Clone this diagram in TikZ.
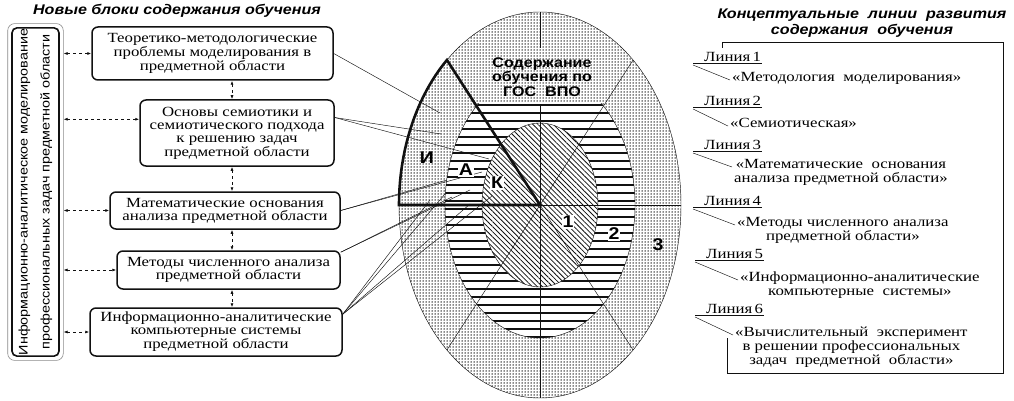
\documentclass[tikz,border=0pt]{standalone}
\usepackage{fontspec}
\setmainfont{Liberation Serif}[FakeStretch=1.2]
\setsansfont{Liberation Sans}[FakeStretch=1.15]
\usepackage{tikz}
\usetikzlibrary{arrows.meta,positioning,fit,calc,patterns.meta}
\definecolor{ink}{HTML}{111111}
\definecolor{frame}{HTML}{8A8A8A}

\begin{document}
\begin{tikzpicture}[
  x=1pt, y=-1pt,
  box/.style={draw=ink, line width=1.5pt, rounded corners=6pt, fill=white, align=center, inner sep=2pt, font=\fontsize{14}{13}\selectfont},
  link/.style={{Latex[length=4pt,width=3pt]}-{Latex[length=4pt,width=3pt]}, dashed, draw=ink, line width=0.7pt},
  ray/.style={draw=ink, line width=0.45pt},
  seclabel/.style={font=\sffamily\bfseries\fontsize{17}{17}\selectfont, inner sep=1pt},
  heading/.style={font=\sffamily\bfseries\itshape\fontsize{14}{16}\selectfont, align=center},
  linia/.style={font=\fontsize{14}{14}\selectfont, inner xsep=1pt, inner ysep=1.5pt, anchor=south west},
  linetext/.style={font=\fontsize{14}{14}\selectfont, align=center, inner sep=0pt, anchor=north west}
]
\useasboundingbox (0,0) rectangle (1014,401);

\node[heading] (newtitle) at (177,11) {Новые блоки содержания обучения};

\node[box, minimum width=241pt, minimum height=53pt] (b1) at (212.5,53.5) {Теоретико-методологические\\проблемы моделирования в\\предметной области};
\node[box, minimum width=194pt, minimum height=66pt] (b2) at (237,133) {Основы семиотики и\\семиотического подхода\\к решению задач\\предметной области};
\node[box, minimum width=230pt, minimum height=37pt] (b3) at (225,210.5) {Математические основания\\анализа предметной области};
\node[box, minimum width=223pt, minimum height=38pt] (b4) at (228.5,270) {Методы численного анализа\\предметной области};
\node[box, minimum width=252pt, minimum height=48pt] (b5) at (216,332) {Информационно-аналитические\\компьютерные системы\\предметной области};

\node[draw=ink, line width=1.6pt, rounded corners=5pt, rotate=90, minimum width=322pt, minimum height=47pt, align=center, inner sep=1pt, font=\sffamily\fontsize{12.5}{22}\selectfont] (infobox) at (35.5,192) {Информационно-аналитическое моделирование\\профессиональных задач предметной области};
\node[fit=(infobox), draw=frame, line width=0.6pt, rounded corners=7pt, inner sep=3.5pt] (infoframe) {};

\foreach \b in {b1,b3,b4,b5}
  \draw[link] (infoframe.east |- \b.west) -- (\b.west);
\draw[link] (infoframe.east |- b2.172) -- (b2.172);
\coordinate (spine) at (232,0);
\foreach \u/\l in {b1/b2,b2/b3,b3/b4,b4/b5}
  \draw[link] (\u.south -| spine) -- (\l.north -| spine);

\coordinate (core) at (540,205);
\path[pattern={Dots[distance=3pt,radius=0.75pt]}, pattern color=ink] (core) ellipse [x radius=141pt, y radius=193pt];
\draw[ray] (core) ellipse [x radius=141pt, y radius=193pt];
\begin{scope}
  \clip (0,104) rectangle (1014,401);
  \fill[white] (core) ellipse [x radius=95pt, y radius=133pt];
  \path[pattern={Lines[angle=0,distance=8pt,line width=2.6pt]}, pattern color=ink] (core) ellipse [x radius=95pt, y radius=133pt];
  \draw[ray] (core) ellipse [x radius=95pt, y radius=133pt];
\end{scope}
\fill[white] (core) ellipse [x radius=58pt, y radius=82pt];
\path[pattern={Lines[angle=-45,distance=3.6pt,line width=0.8pt]}, pattern color=ink] (core) ellipse [x radius=58pt, y radius=82pt];
\draw[ray] (core) ellipse [x radius=58pt, y radius=82pt];

\foreach \t in {0,48.7,228.7,270,311.3}
  \draw[ray] (core) -- ({540+141*cos(\t)},{205-193*sin(\t)});
\draw[ray] (core) -- (540,104);
\draw[ray] (540,12) -- (540,48);

\node[font=\sffamily\bfseries\fontsize{14}{14.5}\selectfont, align=center] (gos) at (542,77) {Содержание\\обучения по\\ГОС~~ВПО};

\coordinate (wI1) at (440,113);
\coordinate (wI2) at (441,134);
\coordinate (wA1) at (489,159);
\coordinate (wA2) at (447,180);
\coordinate (wK1) at (482,172);
\coordinate (wA3) at (452,197);
\coordinate (wK2) at (470,190);
\coordinate (wI3) at (430,200);
\coordinate (wA4) at (445,194);
\coordinate (wK3) at (470,204);
\coordinate (wK4) at (492,196);
\draw[ray] (b1.east) -- (wI1);
\draw[ray] (b2.9) -- (wI2);
\draw[ray] (b2.9) -- (wA1);
\draw[ray] (b3.east) -- (wA2);
\draw[ray] (b3.east) -- (wK1);
\draw[ray] (b4.9) -- (wA3);
\draw[ray] (b4.9) -- (wK2);
\foreach \w in {wI3,wA4,wK3,wK4}
  \draw[ray] (b5.8) -- (\w);

\draw[ink, line width=2.6pt, line join=miter] (core) -- plot[domain=180:131.3, samples=30] ({540+141*cos(\x)},{205-193*sin(\x)}) -- cycle;

\node[seclabel] (lI) at (427,158) {И};
\node[seclabel, fill=white] (lA) at (466,170) {А};
\node[seclabel, fill=white] (lK) at (497,183) {К};
\node[seclabel, fill=white] (n1) at (568,222) {1};
\node[seclabel, fill=white] (n2) at (614,234) {2};
\node[seclabel] (n3) at (658,245) {3};

\node[heading] (linestitle) at (862,23) {Концептуальные~ линии~ развития\\содержания~ обучения};
\draw[ink, line width=0.9pt] (722,48) -- (722,42) -- (1003,42) -- (1003,373) -- (727,373) -- (727,338);

\node[linia] (l1) at (703,63) {Линия\,1};
\node[linia] (l2) at (703,107) {Линия\,2};
\node[linia] (l3) at (703,151) {Линия\,3};
\node[linia] (l4) at (703,207) {Линия\,4};
\node[linia] (l5) at (705,260) {Линия\,5};
\node[linia] (l6) at (705,315) {Линия\,6};

\node[linetext] (t1) at (732,72) {«Методология~ моделирования»};
\node[linetext] (t2) at (730,118) {«Семиотическая»};
\node[linetext] (t3) at (734,159) {«Математические~ основания\\анализа предметной области»};
\node[linetext] (t4) at (737,217) {«Методы численного анализа\\предметной области»};
\node[linetext] (t5) at (740,272) {«Информационно-аналитические\\компьютерные~ системы»};
\node[linetext] (t6) at (735,327) {«Вычислительный~ эксперимент\\в решении профессиональных\\задач~ предметной~ области»};

\foreach \n in {1,...,6}{
  \draw[ray] ([xshift=-10pt]l\n.south west) -- (l\n.south east);
  \draw[ray] ([xshift=-10pt,yshift=-2pt]l\n.south west) -- ([xshift=-2pt,yshift=-8pt]t\n.north west);
}
\end{tikzpicture}
\end{document}
